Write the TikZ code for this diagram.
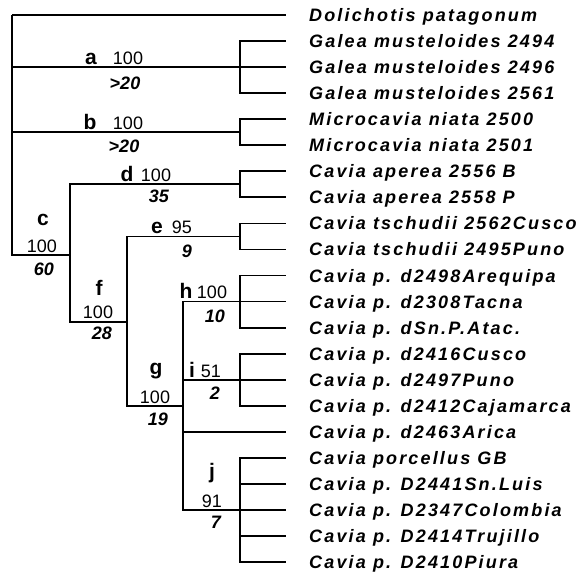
\documentclass[tikz,border=0pt]{standalone}
\usepackage{fontspec}
\setmainfont{Liberation Sans}
\newfontfamily\taxonfont[LetterSpace=12]{Liberation Sans}
\usetikzlibrary{calc}

\begin{document}
\begin{tikzpicture}[
                x=1pt,y=-1pt, % 按像素坐标
                branch/.style={line width=1.8pt},
                taxon/.style={anchor=base west,inner sep=0pt,font=\taxonfont\bfseries\itshape\fontsize{18}{20}\selectfont},
                clade/.style={anchor=base,inner sep=0pt,font=\bfseries\fontsize{21}{24}\selectfont},
                boot/.style={anchor=base,inner sep=0pt,font=\fontsize{18}{20}\selectfont},
                decay/.style={anchor=base,inner sep=0pt,font=\bfseries\itshape\fontsize{18}{20}\selectfont},
            ]
            \useasboundingbox (0,0) rectangle (581,575);
            % 叶子与物种名
            \foreach \name [count=\i from 0] in {Dolichotis patagonum,Galea musteloides 2494,Galea musteloides 2496,Galea musteloides 2561,Microcavia niata 2500,Microcavia niata 2501,Cavia aperea 2556 B,Cavia aperea 2558 P,Cavia tschudii 2562Cusco,Cavia tschudii 2495Puno,Cavia p. d2498Arequipa,Cavia p. d2308Tacna,Cavia p. dSn.P.Atac.,Cavia p. d2416Cusco,Cavia p. d2497Puno,Cavia p. d2412Cajamarca,Cavia p. d2463Arica,Cavia porcellus GB,Cavia p. D2441Sn.Luis,Cavia p. D2347Colombia,Cavia p. D2414Trujillo,Cavia p. D2410Piura}
            {
                \coordinate (L\i) at (286,{15+26.05*\i});
                \node[taxon] (t\i) at ($(L\i)+(23,6.5)$) {\name};
            }
            
            % 内部节点
            \coordinate (root) at (12,15);
            \coordinate (nA) at ($(L2)+(-46,0)$);
            \coordinate (nB) at ($(L4)!.5!(L5)+(-46,0)$);
            \coordinate (nD) at ($(L6)!.5!(L7)+(-46,0)$);
            \coordinate (nE) at ($(L8)!.5!(L9)+(-46,0)$);
            \coordinate (nH) at ($(L11)+(-46,0)$);
            \coordinate (nI) at ($(L14)+(-46,0)$);
            \coordinate (nJ) at ($(L19)+(-46,0)$);
            \coordinate (nC) at (70,255);
            \coordinate (nF) at (127,322);
            \coordinate (nG) at (183,406);
            
            % 画分支
            \draw[branch] (root) -- (L0);
            \foreach \c in {nA,nB,nC} \draw[branch] (root) |- (\c);
            \foreach \l in {1,2,3} \draw[branch] (nA) |- (L\l);
            \foreach \l in {4,5} \draw[branch] (nB) |- (L\l);
            \foreach \c in {nD,nF} \draw[branch] (nC) |- (\c);
            \foreach \l in {6,7} \draw[branch] (nD) |- (L\l);
            \foreach \c in {nE,nG} \draw[branch] (nF) |- (\c);
            \foreach \l in {8,9} \draw[branch] (nE) |- (L\l);
            \foreach \c in {nH,nI,L16,nJ} \draw[branch] (nG) |- (\c);
            \foreach \l in {10,11,12} \draw[branch] (nH) |- (L\l);
            \foreach \l in {13,14,15} \draw[branch] (nI) |- (L\l);
            \foreach \l in {17,...,21} \draw[branch] (nJ) |- (L\l);
            
            % 节点标注
            \node[clade] (ca) at (91,65) {a};   \node[boot] (ba) at (128,65) {100};  \node[decay] (da) at (125,90) {>20};
            \node[clade] (cb) at (90,130) {b};  \node[boot] (bb) at (128,130) {100}; \node[decay] (db) at (124,153) {>20};
            \node[clade] (cd) at (127,182) {d}; \node[boot] (bd) at (156,182) {100}; \node[decay] (dd) at (159,202) {35};
            \node[clade] (cc) at (43,225) {c};  \node[boot] (bc) at (42,252) {100};  \node[decay] (dc) at (44,275) {60};
            \node[clade] (ce) at (157,233) {e}; \node[boot] (be) at (182,233) {95};  \node[decay] (de) at (187,257) {9};
            \node[clade] (cf) at (99,295) {f};  \node[boot] (bf) at (98,318) {100};  \node[decay] (df) at (102,339) {28};
            \node[clade] (ch) at (186,298) {h}; \node[boot] (bh) at (212,298) {100}; \node[decay] (dh) at (215,322) {10};
            \node[clade] (cg) at (156,374) {g}; \node[boot] (bg) at (155,403) {100}; \node[decay] (dg) at (158,425) {19};
            \node[clade] (ci) at (192,377) {i}; \node[boot] (bi) at (211,377) {51};  \node[decay] (di) at (215,399) {2};
            \node[clade] (cj) at (212,478) {j}; \node[boot] (bj) at (212,507) {91};  \node[decay] (dj) at (216,528) {7};
            \end{tikzpicture}
\end{document}
